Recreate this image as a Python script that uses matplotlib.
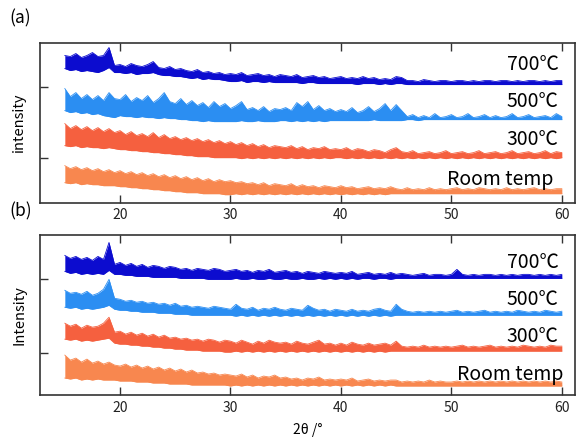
import numpy as np
import matplotlib
matplotlib.use('Agg')
import matplotlib.pyplot as plt

plt.rcParams['font.family'] = ['Noto Sans CJK JP', 'DejaVu Sans']

'''Data read off the picture (0.5 deg steps, band top / band bottom, arb. units)'''

two_theta = np.arange(15.0, 60.01, 0.5)

# panel (a)
a700_hi = [147, 146, 149, 145, 147, 150, 146, 147, 155, 137,
           138, 136, 139, 137, 136, 138, 141, 135, 134, 136,
           133, 134, 132, 131, 133, 130, 131, 129, 130, 128,
           129, 128, 130, 127, 128, 129, 127, 128, 126, 128,
           127, 126, 128, 125, 126, 127, 125, 126, 124, 125,
           126, 124, 125, 124, 126, 124, 125, 123, 124, 123,
           126, 125, 122, 122, 121, 123, 122, 121, 122, 122,
           121, 122, 122, 121, 122, 121, 122, 122, 121, 122,
           122, 121, 122, 121, 122, 122, 121, 122, 121, 122,
           122]
a700_lo = [134, 132, 133, 131, 132, 131, 130, 132, 135, 130,
           130, 129, 130, 128, 129, 129, 130, 128, 127, 127,
           126, 126, 125, 124, 125, 123, 124, 123, 123, 122,
           121, 121, 122, 120, 121, 121, 120, 121, 120, 120,
           120, 120, 120, 119, 120, 120, 119, 119, 119, 119,
           119, 119, 119, 118, 119, 119, 119, 118, 119, 118,
           119, 119, 118, 118, 118, 118, 118, 118, 118, 118,
           118, 118, 118, 118, 118, 118, 118, 118, 118, 118,
           118, 118, 118, 118, 118, 118, 118, 118, 118, 118,
           118]

a500_hi = [114, 106, 110, 104, 108, 103, 107, 102, 110, 104,
           103, 108, 101, 105, 102, 107, 100, 104, 110, 101,
           99, 104, 98, 102, 97, 100, 95, 101, 96, 99,
           94, 97, 101, 93, 95, 92, 96, 91, 94, 93,
           95, 92, 100, 96, 101, 93, 97, 92, 94, 91,
           93, 91, 95, 90, 92, 96, 91, 94, 99, 92,
           98, 92, 86, 88, 85, 87, 85, 89, 85, 86,
           88, 85, 86, 89, 85, 86, 88, 85, 87, 85,
           86, 89, 85, 86, 88, 85, 86, 87, 85, 89,
           86]
a500_lo = [92, 90, 91, 89, 90, 88, 89, 87, 86, 85,
           87, 86, 86, 85, 86, 85, 85, 84, 85, 84,
           84, 83, 83, 82, 82, 81, 82, 81, 81, 81,
           81, 81, 82, 81, 81, 82, 81, 81, 81, 82,
           82, 81, 82, 81, 82, 81, 82, 81, 82, 82,
           82, 82, 82, 82, 82, 82, 83, 82, 82, 82,
           82, 82, 83, 83, 82, 83, 83, 83, 83, 83,
           83, 83, 83, 83, 83, 83, 83, 83, 83, 83,
           83, 83, 83, 83, 83, 83, 83, 83, 83, 83,
           83]

a300_hi = [79, 74, 77, 73, 76, 72, 75, 71, 74, 70,
           72, 68, 71, 67, 69, 66, 70, 65, 68, 64,
           66, 63, 65, 62, 64, 61, 63, 60, 62, 59,
           61, 58, 60, 57, 59, 56, 58, 55, 57, 56,
           55, 57, 54, 56, 53, 55, 54, 56, 53, 54,
           53, 55, 52, 54, 53, 51, 53, 52, 50, 53,
           55, 51, 50, 52, 49, 50, 51, 49, 50, 52,
           49, 50, 51, 49, 50, 52, 49, 50, 51, 49,
           50, 52, 49, 50, 51, 49, 50, 52, 49, 51,
           50]
a300_lo = [57, 56, 57, 55, 56, 55, 55, 54, 55, 54,
           53, 53, 52, 52, 51, 51, 50, 50, 49, 49,
           48, 48, 47, 47, 46, 46, 46, 45, 45, 45,
           45, 45, 44, 45, 44, 45, 44, 45, 44, 45,
           44, 45, 44, 45, 44, 45, 44, 45, 44, 45,
           45, 44, 45, 44, 45, 44, 45, 44, 45, 44,
           45, 44, 45, 44, 45, 44, 45, 44, 45, 44,
           45, 44, 45, 44, 45, 44, 45, 44, 45, 44,
           45, 44, 45, 44, 45, 44, 45, 44, 45, 44,
           45]

art_hi = [37, 34, 36, 33, 35, 32, 34, 31, 33, 30,
          32, 29, 31, 28, 30, 27, 29, 26, 28, 25,
          27, 24, 26, 23, 25, 22, 24, 21, 23, 21,
          22, 20, 21, 19, 20, 18, 20, 17, 19, 18,
          17, 19, 16, 18, 16, 17, 15, 17, 16, 15,
          17, 15, 16, 14, 15, 16, 14, 15, 14, 16,
          14, 13, 15, 13, 14, 13, 15, 13, 14, 13,
          14, 15, 13, 14, 13, 15, 14, 13, 14, 13,
          15, 13, 14, 13, 14, 15, 13, 14, 13, 14,
          14]
art_lo = [20, 19, 20, 18, 19, 18, 18, 17, 17, 17,
          16, 16, 15, 15, 14, 14, 13, 13, 12, 12,
          11, 11, 10, 10, 10, 9, 9, 9, 9, 8,
          8, 9, 8, 9, 8, 9, 8, 9, 8, 9,
          8, 9, 8, 9, 8, 9, 8, 9, 8, 9,
          8, 9, 8, 9, 8, 9, 8, 9, 8, 9,
          9, 9, 9, 9, 9, 9, 9, 9, 9, 9,
          9, 9, 9, 9, 9, 9, 9, 9, 9, 9,
          9, 9, 9, 9, 9, 9, 9, 9, 9, 9,
          9]

# panel (b)
b700_hi = [140, 137, 139, 136, 138, 135, 139, 136, 153, 131,
           133, 130, 132, 129, 131, 128, 130, 129, 127, 129,
           128, 126, 127, 125, 127, 126, 125, 127, 126, 124,
           125, 126, 124, 125, 123, 125, 124, 126, 123, 124,
           125, 123, 124, 122, 124, 123, 122, 124, 123, 122,
           123, 122, 124, 121, 122, 123, 121, 122, 121, 123,
           121, 122, 121, 120, 121, 122, 120, 121, 121, 120,
           121, 126, 121, 120, 121, 120, 121, 121, 120, 121,
           120, 121, 120, 121, 121, 120, 121, 120, 121, 120,
           121]
b700_lo = [124, 122, 123, 121, 122, 121, 122, 121, 125, 121,
           121, 120, 120, 119, 119, 119, 118, 118, 118, 118,
           118, 117, 117, 117, 117, 117, 116, 116, 116, 116,
           116, 117, 116, 116, 117, 116, 116, 117, 116, 116,
           117, 116, 116, 117, 116, 116, 117, 116, 117, 116,
           117, 116, 117, 116, 117, 117, 116, 117, 117, 116,
           117, 117, 117, 117, 117, 117, 117, 117, 117, 117,
           117, 117, 117, 117, 117, 117, 117, 117, 117, 117,
           117, 117, 117, 117, 117, 117, 117, 117, 117, 117,
           117]

b500_hi = [105, 102, 103, 101, 104, 100, 102, 106, 116, 97,
           96, 94, 95, 93, 94, 92, 93, 91, 92, 90,
           92, 89, 90, 88, 89, 88, 87, 89, 88, 87,
           86, 91, 87, 86, 88, 85, 87, 86, 88, 86,
           85, 87, 86, 85, 90, 87, 85, 86, 84, 86,
           85, 84, 86, 84, 85, 84, 86, 87, 85, 84,
           91, 86, 84, 83, 84, 83, 84, 83, 84, 83,
           84, 85, 83, 84, 83, 84, 85, 83, 84, 83,
           84, 83, 85, 84, 83, 84, 83, 85, 84, 83,
           84]
b500_lo = [88, 87, 88, 86, 87, 86, 87, 88, 90, 86,
           85, 85, 84, 84, 83, 83, 83, 82, 82, 82,
           81, 81, 81, 80, 80, 80, 80, 80, 80, 80,
           80, 79, 80, 79, 80, 79, 80, 79, 80, 79,
           80, 79, 80, 79, 80, 79, 80, 79, 80, 79,
           80, 79, 80, 79, 80, 79, 80, 79, 80, 79,
           80, 80, 80, 80, 80, 80, 80, 80, 80, 80,
           80, 80, 80, 80, 80, 80, 80, 80, 80, 80,
           80, 80, 80, 80, 80, 80, 80, 80, 80, 80,
           80]

b300_hi = [72, 69, 71, 67, 70, 68, 69, 72, 78, 63,
           64, 61, 63, 60, 62, 59, 61, 58, 60, 57,
           58, 56, 57, 55, 56, 54, 56, 55, 53, 55,
           54, 52, 55, 53, 51, 54, 52, 55, 53, 52,
           53, 51, 54, 52, 51, 53, 55, 51, 52, 50,
           52, 50, 53, 51, 50, 52, 50, 51, 52, 50,
           54, 49, 48, 49, 48, 50, 48, 49, 48, 49,
           48, 49, 50, 48, 49, 48, 49, 50, 48, 49,
           48, 49, 48, 50, 49, 48, 49, 48, 50, 49,
           49]
b300_lo = [56, 55, 56, 54, 55, 54, 55, 56, 57, 52,
           51, 51, 50, 50, 49, 49, 48, 48, 47, 47,
           46, 46, 45, 45, 45, 44, 44, 44, 44, 43,
           43, 44, 43, 44, 43, 44, 43, 44, 43, 44,
           43, 44, 43, 44, 43, 44, 43, 44, 43, 44,
           43, 44, 43, 44, 43, 44, 43, 44, 43, 44,
           44, 44, 44, 44, 44, 44, 44, 44, 44, 44,
           44, 44, 44, 44, 44, 44, 44, 44, 44, 44,
           44, 44, 44, 44, 44, 44, 44, 44, 44, 44,
           44]

brt_hi = [40, 35, 37, 33, 36, 32, 34, 31, 33, 30,
          29, 31, 28, 30, 27, 29, 26, 28, 25, 27,
          24, 26, 23, 25, 22, 23, 21, 22, 20, 21,
          20, 19, 21, 18, 20, 17, 19, 18, 20, 17,
          18, 16, 17, 15, 17, 16, 18, 15, 16, 15,
          16, 15, 17, 14, 15, 16, 14, 15, 14, 15,
          15, 13, 14, 13, 14, 13, 15, 13, 14, 13,
          13, 14, 13, 14, 13, 14, 13, 14, 13, 14,
          13, 14, 13, 14, 13, 14, 13, 14, 13, 14,
          13]
brt_lo = [17, 16, 17, 15, 16, 15, 16, 15, 15, 15,
          14, 14, 14, 13, 13, 13, 12, 12, 12, 11,
          11, 11, 11, 10, 10, 10, 10, 10, 10, 10,
          9, 10, 9, 10, 9, 10, 9, 10, 9, 10,
          9, 10, 9, 10, 9, 10, 9, 10, 9, 10,
          9, 10, 9, 10, 9, 10, 9, 10, 9, 10,
          9, 9, 9, 9, 9, 9, 9, 9, 9, 9,
          9, 9, 9, 9, 9, 9, 9, 9, 9, 9,
          9, 9, 9, 9, 9, 9, 9, 9, 9, 9,
          9]

labels = ['700℃', '500℃', '300℃', 'Room temp']
colors = ['#0c0ccf', '#2b8ef2', '#f5603f', '#f8874f']

'''PLOT GRAPH'''

fig = plt.figure(figsize=(5.76, 4.40), dpi=100)
ax_a = fig.add_axes([0.0694, 0.5393, 0.9290, 0.3641])
ax_b = fig.add_axes([0.0694, 0.1023, 0.9290, 0.3625])

panels = [
    (ax_a, [(a700_lo, a700_hi), (a500_lo, a500_hi), (a300_lo, a300_hi), (art_lo, art_hi)],
     [138, 101, 63, 23], [59.7, 59.7, 59.7, 59.2], [116, 45], 'intensity', '(a)'),
    (ax_b, [(b700_lo, b700_hi), (b500_lo, b500_hi), (b300_lo, b300_hi), (brt_lo, brt_hi)],
     [133, 96, 59, 21], [59.7, 59.7, 59.7, 60.1], [116, 42], 'Intensity', '(b)'),
]

for ax, traces, label_y, label_x, yt, ylab, tag in panels:
    for (lo, hi), c, lab, ly, lx in zip(traces, colors, labels, label_y, label_x):
        ax.fill_between(two_theta, lo, hi, color=c, lw=0)
        ax.plot(two_theta, hi, color=c, lw=0.6)
        ax.plot(two_theta, lo, color=c, lw=0.6)
        ax.text(lx, ly, lab, ha='right', va='center', fontsize=14, color='black')

    ax.set_xlim(12.75, 61.2)
    ax.set_ylim(0, 160)
    ax.set_xticks([20, 30, 40, 50, 60])
    ax.set_yticks(yt)
    ax.set_yticklabels([])
    ax.tick_params(direction='in', top=True, length=6, width=1, labelsize=10,
                   colors='#333333', labelcolor='#222222', pad=4)
    for s in ax.spines.values():
        s.set_color('#333333')
        s.set_linewidth(1.2)
    ax.set_ylabel(ylab, fontsize=10.5, labelpad=6)
    ax.text(-0.058, 1.15, tag, transform=ax.transAxes, fontsize=12.5,
            ha='left', va='center')

ax_b.set_xlabel('2θ /°', fontsize=10, labelpad=6)

fig.savefig('out.png', dpi=100)
